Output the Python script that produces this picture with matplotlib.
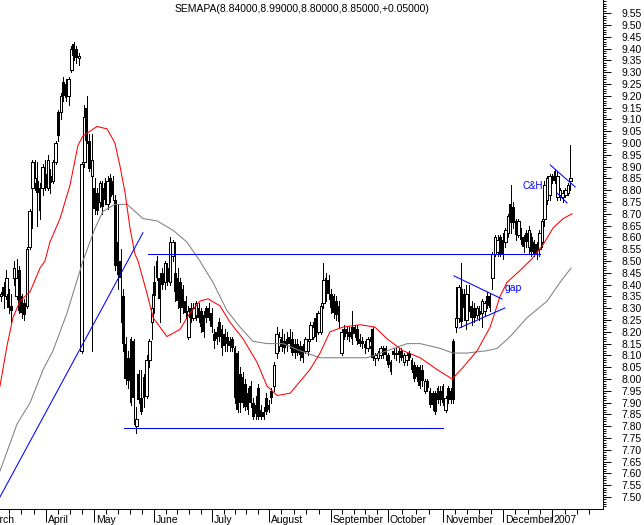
import numpy as np
import matplotlib.pyplot as plt

# daily candles, one per trading day (index 0 = mid March 2006, last = early Jan 2007)
opens = [8.35, 8.39, 8.35, 8.36, 8.31, 8.43, 8.35, 8.46, 8.35, 8.32,
         8.31, 8.56, 8.81, 8.83, 8.84, 8.81, 8.81, 8.87, 8.81, 8.86,
         8.84, 8.92, 9.13, 9.13, 9.26, 9.25, 9.20, 9.31, 9.42, 9.40,
         9.36, 8.12, 8.92, 9.15, 9.01, 8.86, 8.81, 8.79, 8.75, 8.81,
         8.83, 8.74, 8.85, 8.84, 8.76, 8.58, 8.50, 8.35, 8.15, 8.09,
         8.17, 8.16, 7.80, 8.02, 7.92, 8.01, 7.93, 8.08, 8.24, 8.41,
         8.50, 8.43, 8.45, 8.41, 8.47, 8.41, 8.52, 8.45, 8.43, 8.41,
         8.38, 8.33, 8.18, 8.30, 8.26, 8.27, 8.30, 8.29, 8.27, 8.30,
         8.30, 8.28, 8.19, 8.20, 8.24, 8.21, 8.19, 8.18, 8.16, 8.17,
         8.13, 8.11, 8.02, 8.01, 7.98, 7.94, 7.97, 7.90, 7.89, 7.96,
         7.87, 7.86, 7.92, 7.89, 7.95, 7.97, 8.11, 8.14, 8.17, 8.16,
         8.17, 8.18, 8.17, 8.15, 8.15, 8.14, 8.14, 8.12, 8.12, 8.17,
         8.18, 8.26, 8.20, 8.20, 8.32, 8.43, 8.42, 8.36, 8.35, 8.33,
         8.31, 8.11, 8.21, 8.21, 8.20, 8.22, 8.22, 8.21, 8.17, 8.16,
         8.15, 8.13, 8.14, 8.21, 8.09, 8.09, 8.10, 8.12, 8.13, 8.10,
         8.07, 8.12, 8.11, 8.12, 8.12, 8.07, 8.08, 8.11, 8.08, 8.06,
         8.05, 8.05, 8.04, 7.95, 7.99, 7.95, 7.94, 7.94, 7.96, 7.95,
         7.97, 7.87, 7.96, 7.95, 8.16, 8.22, 8.26, 8.38, 8.36, 8.25,
         8.35, 8.31, 8.30, 8.27, 8.29, 8.28, 8.29, 8.35, 8.35, 8.43,
         8.53, 8.54, 8.60, 8.59, 8.58, 8.62, 8.74, 8.73, 8.67, 8.61,
         8.63, 8.60, 8.62, 8.56, 8.60, 8.58, 8.57, 8.55, 8.58, 8.68,
         8.76, 8.78, 8.86, 8.88, 8.77, 8.78, 8.77, 8.78, 8.79, 8.84]
highs = [8.37, 8.41, 8.46, 8.38, 8.36, 8.50, 8.51, 8.48, 8.36, 8.34,
         8.56, 8.72, 8.93, 8.93, 8.92, 8.83, 8.91, 8.93, 8.95, 8.89,
         8.93, 9.01, 9.14, 9.21, 9.28, 9.27, 9.28, 9.41, 9.43, 9.41,
         9.38, 8.92, 9.16, 9.20, 9.04, 9.04, 8.85, 8.81, 8.84, 8.84,
         8.85, 8.86, 8.87, 8.86, 8.78, 8.74, 8.55, 8.38, 8.18, 8.12,
         8.18, 8.17, 7.88, 8.04, 8.04, 8.02, 8.10, 8.17, 8.36, 8.48,
         8.52, 8.45, 8.47, 8.50, 8.49, 8.60, 8.59, 8.58, 8.47, 8.43,
         8.40, 8.35, 8.31, 8.32, 8.32, 8.33, 8.32, 8.30, 8.29, 8.31,
         8.32, 8.30, 8.21, 8.22, 8.26, 8.23, 8.21, 8.20, 8.18, 8.18,
         8.14, 8.12, 8.05, 8.03, 8.00, 7.96, 7.99, 7.92, 7.93, 7.98,
         7.89, 7.88, 7.94, 7.91, 7.96, 8.07, 8.22, 8.20, 8.21, 8.19,
         8.20, 8.21, 8.20, 8.17, 8.17, 8.16, 8.15, 8.18, 8.17, 8.24,
         8.24, 8.28, 8.29, 8.32, 8.49, 8.45, 8.44, 8.38, 8.36, 8.35,
         8.33, 8.21, 8.23, 8.22, 8.22, 8.29, 8.23, 8.23, 8.19, 8.18,
         8.16, 8.18, 8.18, 8.22, 8.11, 8.12, 8.14, 8.14, 8.14, 8.11,
         8.08, 8.13, 8.13, 8.13, 8.13, 8.11, 8.11, 8.12, 8.09, 8.07,
         8.06, 8.06, 8.06, 8.00, 8.00, 7.96, 7.95, 7.95, 7.97, 7.97,
         7.98, 7.93, 7.97, 7.96, 8.17, 8.39, 8.40, 8.49, 8.38, 8.40,
         8.40, 8.33, 8.32, 8.31, 8.31, 8.34, 8.33, 8.37, 8.36, 8.54,
         8.61, 8.61, 8.61, 8.62, 8.64, 8.70, 8.82, 8.75, 8.68, 8.68,
         8.64, 8.61, 8.63, 8.65, 8.62, 8.59, 8.58, 8.63, 8.68, 8.84,
         8.86, 8.87, 8.87, 8.89, 8.88, 8.81, 8.80, 8.81, 8.83, 8.99]
lows = [8.33, 8.30, 8.34, 8.28, 8.24, 8.40, 8.34, 8.28, 8.26, 8.25,
        8.30, 8.55, 8.64, 8.80, 8.65, 8.68, 8.78, 8.80, 8.80, 8.79,
        8.83, 8.91, 9.01, 9.10, 9.18, 9.18, 9.16, 9.30, 9.35, 9.34,
        9.33, 8.11, 8.90, 9.00, 8.88, 8.12, 8.70, 8.70, 8.73, 8.70,
        8.74, 8.72, 8.75, 8.76, 8.46, 8.38, 8.24, 8.12, 7.98, 7.96,
        7.89, 7.81, 7.77, 7.90, 7.85, 7.88, 7.92, 8.05, 8.17, 8.28,
        8.42, 8.24, 8.38, 8.38, 8.40, 8.40, 8.50, 8.33, 8.30, 8.24,
        8.28, 8.26, 8.17, 8.24, 8.25, 8.25, 8.24, 8.20, 8.18, 8.24,
        8.25, 8.20, 8.13, 8.15, 8.16, 8.10, 8.12, 8.12, 8.12, 8.12,
        7.90, 7.86, 7.86, 7.88, 7.87, 7.85, 7.88, 7.83, 7.83, 7.83,
        7.83, 7.83, 7.85, 7.86, 7.90, 7.95, 8.09, 8.12, 8.12, 8.11,
        8.12, 8.13, 8.10, 8.09, 8.10, 8.08, 8.07, 8.11, 8.10, 8.16,
        8.17, 8.16, 8.19, 8.19, 8.30, 8.33, 8.34, 8.28, 8.26, 8.25,
        8.22, 8.10, 8.17, 8.17, 8.16, 8.15, 8.18, 8.15, 8.14, 8.13,
        8.11, 8.12, 8.13, 8.08, 8.06, 8.08, 8.09, 8.09, 8.08, 8.05,
        8.02, 8.09, 8.08, 8.07, 8.08, 8.06, 8.06, 8.08, 8.03, 7.99,
        7.99, 7.96, 7.97, 7.94, 7.95, 7.88, 7.87, 7.85, 7.90, 7.89,
        7.89, 7.86, 7.90, 7.90, 7.90, 8.20, 8.24, 8.22, 8.25, 8.21,
        8.29, 8.23, 8.24, 8.26, 8.25, 8.22, 8.27, 8.30, 8.29, 8.38,
        8.52, 8.52, 8.52, 8.51, 8.56, 8.60, 8.62, 8.64, 8.59, 8.60,
        8.57, 8.54, 8.56, 8.53, 8.52, 8.52, 8.51, 8.52, 8.56, 8.65,
        8.74, 8.76, 8.83, 8.83, 8.76, 8.76, 8.75, 8.77, 8.78, 8.80]
closes = [8.36, 8.35, 8.43, 8.30, 8.29, 8.47, 8.43, 8.29, 8.28, 8.27,
          8.55, 8.71, 8.92, 8.85, 8.79, 8.71, 8.90, 8.81, 8.93, 8.83,
          8.92, 9.00, 9.03, 9.20, 9.20, 9.19, 9.27, 9.40, 9.37, 9.36,
          9.37, 8.91, 9.11, 9.01, 8.89, 8.93, 8.72, 8.71, 8.83, 8.73,
          8.76, 8.84, 8.77, 8.78, 8.48, 8.44, 8.43, 8.15, 8.00, 7.99,
          7.90, 7.92, 7.83, 7.91, 7.86, 7.92, 8.08, 8.16, 8.30, 8.35,
          8.43, 8.34, 8.40, 8.49, 8.41, 8.58, 8.58, 8.37, 8.33, 8.30,
          8.30, 8.28, 8.29, 8.26, 8.30, 8.32, 8.26, 8.22, 8.20, 8.26,
          8.26, 8.22, 8.16, 8.17, 8.18, 8.13, 8.14, 8.15, 8.14, 8.13,
          7.92, 7.87, 7.90, 7.90, 7.88, 7.87, 7.90, 7.84, 7.85, 7.84,
          7.84, 7.84, 7.86, 7.87, 7.92, 8.06, 8.19, 8.18, 8.14, 8.13,
          8.14, 8.15, 8.11, 8.11, 8.11, 8.10, 8.09, 8.17, 8.16, 8.23,
          8.22, 8.18, 8.28, 8.31, 8.42, 8.35, 8.36, 8.30, 8.28, 8.27,
          8.24, 8.20, 8.18, 8.19, 8.18, 8.17, 8.19, 8.16, 8.15, 8.15,
          8.13, 8.17, 8.16, 8.09, 8.10, 8.11, 8.13, 8.10, 8.10, 8.06,
          8.03, 8.10, 8.10, 8.10, 8.09, 8.10, 8.10, 8.09, 8.04, 8.00,
          8.01, 7.97, 7.99, 7.99, 7.96, 7.89, 7.89, 7.86, 7.91, 7.91,
          7.90, 7.92, 7.91, 7.91, 7.91, 8.26, 8.39, 8.24, 8.30, 8.36,
          8.30, 8.26, 8.26, 8.30, 8.27, 8.33, 8.32, 8.31, 8.30, 8.53,
          8.60, 8.59, 8.53, 8.53, 8.63, 8.69, 8.66, 8.66, 8.61, 8.67,
          8.59, 8.56, 8.58, 8.63, 8.54, 8.53, 8.53, 8.62, 8.67, 8.82,
          8.85, 8.86, 8.84, 8.84, 8.86, 8.80, 8.79, 8.80, 8.82, 8.85]

# moving averages (day index, price)
ma_red_x = [-0.4, 2.3, 4.6, 7.3, 11.2, 15.0, 16.9, 18.8, 22.7, 26.5, 29.6, 31.5,
            34.2, 36.9, 40.8, 43.8, 45.8, 47.7, 49.6, 51.5, 52.7, 56.2, 58.5,
            63.8, 68.8, 72.7, 76.5, 79.6, 84.2, 88.1, 93.1, 98.5, 102.3, 106.2,
            111.2, 115.0, 118.8, 122.7, 126.5, 131.5, 138.1, 143.8, 148.5,
            154.6, 161.2, 167.7, 173.5, 177.7, 183.1, 188.1, 191.9, 194.6,
            199.6, 204.2, 208.5, 212.3, 216.2, 219.6]
ma_red_y = [7.97, 8.14, 8.26, 8.33, 8.37, 8.47, 8.50, 8.58, 8.68, 8.82, 8.99, 9.03,
            9.05, 9.07, 9.06, 9.00, 8.90, 8.79, 8.64, 8.53, 8.50, 8.36, 8.26,
            8.18, 8.21, 8.28, 8.33, 8.34, 8.31, 8.24, 8.17, 8.07, 7.97, 7.93,
            7.94, 7.99, 8.04, 8.11, 8.20, 8.22, 8.23, 8.22, 8.17,
            8.12, 8.09, 8.04, 8.00, 8.05, 8.12, 8.22, 8.35, 8.41,
            8.46, 8.51, 8.57, 8.64, 8.68, 8.70]
ma_gray_x = [-0.4, 6.2, 11.2, 16.2, 20.0, 25.4, 30.4, 31.5, 36.2, 39.2, 43.8,
             48.5, 54.6, 60.0, 66.2, 71.5, 76.5, 81.5, 86.9, 91.9, 96.9, 102.3,
             108.5, 115.0, 122.7, 126.5, 140.8, 148.5, 156.2, 161.2, 168.8,
             173.8, 179.2, 186.9, 190.8, 195.8, 202.3, 210.0, 215.0, 219.2]
ma_gray_y = [7.61, 7.81, 7.90, 8.04, 8.12, 8.28, 8.46, 8.50, 8.64, 8.71, 8.74,
             8.74, 8.68, 8.67, 8.63, 8.58, 8.50, 8.41, 8.29, 8.22, 8.16, 8.15,
             8.15, 8.12, 8.09, 8.09, 8.09, 8.12, 8.15, 8.15, 8.13,
             8.11, 8.11, 8.12, 8.13, 8.18, 8.26, 8.33, 8.41, 8.47]

# hand-drawn trend lines: ([x0, x1], [y0, y1])
trend_lines = [
    ([-0.4, 54.6], [7.50, 8.62]),     # rising trend line
    ([56.5, 207.3], [8.53, 8.53]),    # resistance
    ([47.3, 170.0], [7.794, 7.794]),  # support
    ([174.2, 192.7], [8.437, 8.339]),  # pennant top
    ([176.2, 193.8], [8.216, 8.301]),  # pennant bottom
    ([211.2, 220.8], [8.907, 8.814]),  # handle top
    ([213.8, 217.7], [8.788, 8.746]),  # handle bottom
]

month_labels = ['March', 'April', 'May', 'June', 'July', 'August', 'September',
                'October', 'November', 'December', '2007']
month_pos = [-6.7, 17.3, 35.8, 58.8, 81.2, 103.1, 126.9, 148.8, 170.0, 193.1, 211.9]

title = 'SEMAPA(8.84000,8.99000,8.80000,8.85000,+0.05000)'

plt.rcParams['font.family'] = ['Liberation Sans', 'DejaVu Sans']

fig = plt.figure(figsize=(6.44, 5.25), dpi=100)
ax = fig.add_axes([0, 16.5 / 525, 603 / 644, 508.5 / 525])

o = np.array(opens)
h = np.array(highs)
l = np.array(lows)
c = np.array(closes)
x = np.arange(len(o))
up = c >= o

ax.vlines(x, l, h, color='black', lw=0.7, antialiased=False, zorder=2)
ax.bar(x[up], np.maximum(c[up] - o[up], 0.004), bottom=o[up], width=1.0,
       facecolor='white', edgecolor='black', lw=0.7, antialiased=False, zorder=3)
ax.bar(x[~up], o[~up] - c[~up], bottom=c[~up], width=1.05,
       color='black', lw=0, antialiased=False, zorder=3)

ax.plot(ma_gray_x, ma_gray_y, color='#808080', lw=0.75, zorder=4)
ax.plot(ma_red_x, ma_red_y, color='#ff0000', lw=0.75, zorder=4)

for xs, ys in trend_lines:
    ax.plot(xs, ys, color='#0000ff', lw=0.75, zorder=5)

ax.text(193.8, 8.386, 'gap', color='#0000ff', fontsize=7.5, va='center', ha='left')
ax.text(200.4, 8.818, 'C&H', color='#0000ff', fontsize=7, va='center', ha='left')

for s in ['left', 'top']:
    ax.spines[s].set_visible(False)
ax.spines['right'].set_linewidth(0.7)
ax.spines['bottom'].set_linewidth(0.7)

# right price scale
ax.yaxis.tick_right()
ax.set_yticks(np.arange(7.50, 9.56, 0.05))
ax.set_yticklabels([f'{v:.2f}' for v in np.arange(7.50, 9.56, 0.05)])
ax.set_yticks(np.arange(7.46, 9.61, 0.01), minor=True)
ax.tick_params(axis='y', which='major', length=6, width=0.7, pad=7,
               labelsize=7.5, direction='out')
ax.tick_params(axis='y', which='minor', length=2.5, width=0.7, direction='out')

# month axis
minor_x = []
for a, b in zip(month_pos[:-1], month_pos[1:]):
    n = int(round((b - a) / 4.8))
    minor_x += list(np.linspace(a, b, n + 1)[1:-1])
minor_x += list(np.arange(month_pos[-1] + 4.8, 231, 4.8))
ax.set_xticks(month_pos)
ax.set_xticklabels([])
ax.set_xticks(minor_x, minor=True)
ax.tick_params(axis='x', which='major', length=9.5, width=0.7, direction='out')
ax.tick_params(axis='x', which='minor', length=3.5, width=0.7, direction='out')
for pos, lab in zip(month_pos, month_labels):
    ax.text(pos + 0.7, -0.0225, lab, transform=ax.get_xaxis_transform(),
            fontsize=7.5, ha='left', va='center', clip_on=False)

# limits last, after the ticks, so the ticks do not widen them
ax.set_xlim(-0.385, 231.5)
ax.set_ylim(9.606 - 508.5 / 236, 9.606)

fig.text(175 / 644, 1 - 9 / 525, title, fontsize=7.5, ha='left', va='center')

fig.savefig('out.png', dpi=100)
